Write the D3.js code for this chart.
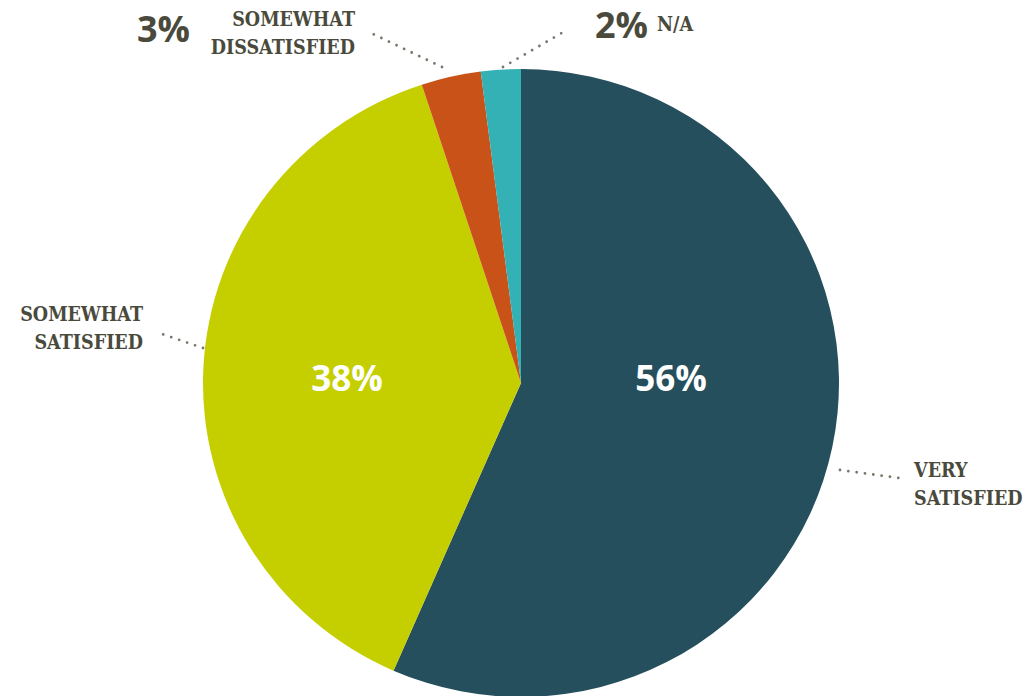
<!DOCTYPE html>
<html>
<head>
<meta charset="utf-8">
<script src="https://cdn.jsdelivr.net/npm/d3@7"></script>
<style>
  html, body { margin: 0; padding: 0; background: #fff; }
  svg { display: block; }
  .cat { font-family: "DejaVu Serif Condensed", "DejaVu Serif", serif; font-weight: bold; fill: #4a4a3c; }
  .pct { font-family: "Open Sans", "Lato", sans-serif; font-weight: bold; }
</style>
</head>
<body>
<svg id="chart" width="1033" height="696"></svg>
<script>
// Satisfaction survey shares, clockwise from 12 o'clock
const categories = ["Very satisfied", "Somewhat satisfied", "Somewhat dissatisfied", "N/A"];
const values = [56, 38, 3, 2];
const labelLines = [["VERY", "SATISFIED"], ["SOMEWHAT", "SATISFIED"], ["SOMEWHAT", "DISSATISFIED"], ["N/A"]];
const colors = ["#254f5d", "#c5cf00", "#c85217", "#33b1b5"];

const W = 1033, H = 696;
const cx = 521, cy = 383, rx = 318, ry = 314;

const svg = d3.select("#chart");

const pie = d3.pie().sort(null).value(d => d)(values);
const arc = d3.arc().innerRadius(0).outerRadius(rx);

// The pie is drawn slightly flattened vertically
const g = svg.append("g").attr("transform", `translate(${cx},${cy}) scale(1,${ry / rx})`);
g.selectAll("path")
  .data(pie)
  .join("path")
  .attr("d", arc)
  .attr("fill", (d, i) => colors[i]);

// Callout layout: dotted leader (from pie edge to label), label anchor, outer percentage
const callouts = [
  { from: [840, 470], to: [899, 478], text: [914, 477], anchor: "start", pct: null },
  { from: [203, 348], to: [159, 333], text: [143, 321], anchor: "end", pct: null },
  { from: [442, 67], to: [373, 34], text: [355, 26], anchor: "end", pct: [137, 42] },
  { from: [503, 67], to: [567, 30], text: [657, 31], anchor: "start", pct: [595, 38] }
];
const lineGap = 28;

pie.forEach((d, i) => {
  const c = callouts[i];
  svg.append("line")
    .attr("x1", c.from[0]).attr("y1", c.from[1])
    .attr("x2", c.to[0]).attr("y2", c.to[1])
    .attr("stroke", "#77776b")
    .attr("stroke-width", 2.8)
    .attr("stroke-linecap", "round")
    .attr("stroke-dasharray", "0 8.4");

  const t = svg.append("text")
    .attr("class", "cat")
    .attr("font-size", 21)
    .attr("text-anchor", c.anchor);
  labelLines[i].forEach((ln, k) => {
    t.append("tspan").attr("x", c.text[0]).attr("y", c.text[1] + k * lineGap).text(ln);
  });

  if (c.pct) {
    svg.append("text")
      .attr("class", "pct")
      .attr("x", c.pct[0]).attr("y", c.pct[1])
      .attr("font-size", 36)
      .attr("fill", "#4a4a3c")
      .text(values[i] + "%");
  }
});

// Narrow the slab caps a little so the lines keep their width at the larger size
svg.selectAll(".cat tspan").each(function () {
  const len = this.getComputedTextLength();
  d3.select(this).attr("textLength", len * 0.93).attr("lengthAdjust", "spacingAndGlyphs");
});

// In-slice percentages for the two large slices
const inner = [{ i: 0, x: 671 }, { i: 1, x: 347 }];
inner.forEach(o => {
  svg.append("text")
    .attr("class", "pct")
    .attr("x", o.x).attr("y", 391)
    .attr("text-anchor", "middle")
    .attr("font-size", 35)
    .attr("fill", "#ffffff")
    .text(values[o.i] + "%");
});
</script>
</body>
</html>
